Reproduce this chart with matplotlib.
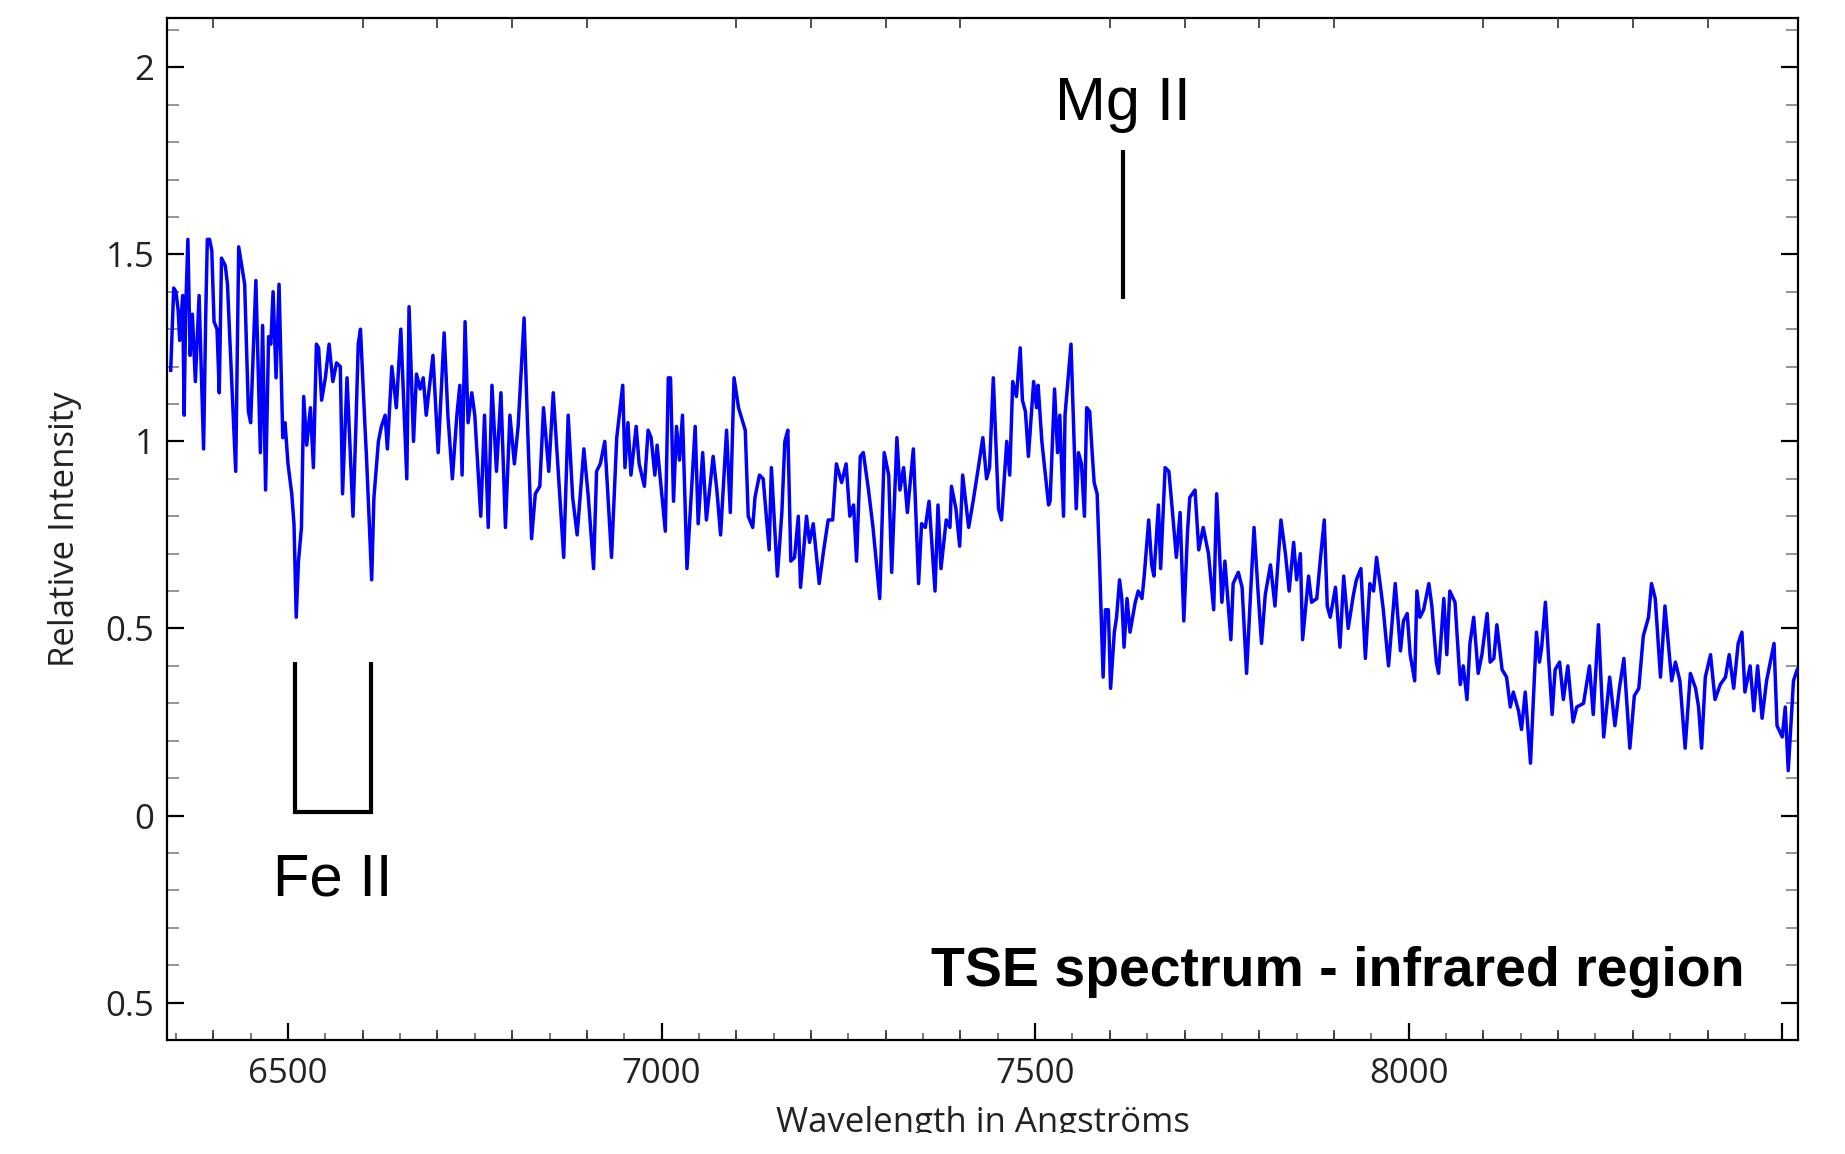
import matplotlib
matplotlib.use("Agg")
import matplotlib.pyplot as plt
from matplotlib.ticker import FixedLocator, MultipleLocator
from matplotlib.patches import Rectangle

# ---------------- data ----------------
wavelength_a = [6343, 6347, 6350, 6353, 6355, 6359, 6361, 6363, 6366, 6369, 6372, 6376, 6381, 6387,
                6390, 6392, 6395, 6398, 6401, 6405, 6408, 6411, 6416, 6419, 6422, 6430, 6434, 6438,
                6442, 6447, 6450, 6457, 6463, 6466, 6470, 6474, 6477, 6480, 6484, 6488, 6493, 6496,
                6500, 6505, 6508, 6511, 6514, 6518, 6521, 6525, 6530, 6534, 6538, 6541, 6545, 6550,
                6555, 6560, 6565, 6570, 6573, 6579, 6587, 6591, 6594, 6597, 6603, 6605, 6612, 6615,
                6621, 6625, 6630, 6633, 6639, 6645, 6651, 6659, 6662, 6668, 6672, 6677, 6681, 6685,
                6694, 6701, 6709, 6714, 6720, 6726, 6730, 6733, 6737, 6741, 6746, 6750, 6758, 6763,
                6768, 6773, 6779, 6785, 6791, 6797, 6803, 6808, 6816, 6821, 6826, 6831, 6837, 6842,
                6849, 6855, 6864, 6869, 6875, 6881, 6887, 6896, 6902, 6909, 6913]
intensity_a = [1.19, 1.41, 1.40, 1.35, 1.27, 1.39, 1.07, 1.35, 1.54, 1.23, 1.34, 1.16, 1.39, 0.98,
               1.35, 1.54, 1.54, 1.51, 1.32, 1.30, 1.13, 1.49, 1.47, 1.42, 1.28, 0.92, 1.52, 1.47,
               1.42, 1.08, 1.05, 1.43, 0.97, 1.31, 0.87, 1.28, 1.26, 1.40, 1.17, 1.42, 1.01, 1.05,
               0.94, 0.86, 0.78, 0.53, 0.68, 0.77, 1.12, 0.99, 1.09, 0.93, 1.26, 1.25, 1.11, 1.17,
               1.26, 1.16, 1.21, 1.20, 0.86, 1.17, 0.80, 1.05, 1.26, 1.30, 1.04, 0.96, 0.63, 0.85,
               1.00, 1.04, 1.07, 0.98, 1.20, 1.09, 1.30, 0.90, 1.36, 1.00, 1.18, 1.14, 1.17, 1.07,
               1.23, 0.97, 1.29, 1.07, 0.90, 1.07, 1.15, 0.91, 1.32, 1.05, 1.13, 1.07, 0.80, 1.07,
               0.77, 1.15, 0.92, 1.13, 0.77, 1.07, 0.94, 1.04, 1.33, 1.02, 0.74, 0.86, 0.88, 1.09,
               0.92, 1.13, 0.85, 0.69, 1.07, 0.85, 0.75, 0.98, 0.85, 0.66, 0.92]

wavelength_b = [6918, 6924, 6933, 6940, 6948, 6951, 6955, 6959, 6966, 6970, 6977, 6982, 6986, 6991,
                6994, 7005, 7009, 7012, 7016, 7020, 7024, 7028, 7034, 7045, 7049, 7055, 7060, 7069,
                7074, 7079, 7087, 7092, 7097, 7103, 7112, 7116, 7122, 7125, 7131, 7136, 7144, 7147,
                7155, 7161, 7165, 7169, 7173, 7178, 7183, 7186, 7194, 7198, 7203, 7211, 7217, 7223,
                7229, 7234, 7241, 7247, 7252, 7257, 7261, 7266, 7270, 7277, 7283, 7292, 7298, 7304,
                7308, 7315, 7319, 7324, 7329, 7337, 7344, 7348, 7353, 7358, 7366, 7370, 7374, 7381,
                7386, 7388, 7394, 7399, 7403, 7411, 7417, 7424, 7430, 7435, 7439, 7444, 7451, 7455,
                7462, 7466, 7470, 7475, 7480, 7483, 7487, 7491, 7498, 7502, 7504, 7509, 7518]
intensity_b = [0.94, 1.00, 0.69, 1.01, 1.15, 0.93, 1.05, 0.91, 1.04, 0.94, 0.88, 1.03, 1.01, 0.91,
               0.99, 0.76, 1.17, 1.17, 0.84, 1.04, 0.95, 1.07, 0.66, 1.04, 0.78, 0.97, 0.79, 0.96,
               0.87, 0.75, 1.03, 0.81, 1.17, 1.09, 1.03, 0.80, 0.77, 0.85, 0.91, 0.90, 0.71, 0.93,
               0.64, 0.81, 1.00, 1.03, 0.68, 0.69, 0.80, 0.61, 0.80, 0.73, 0.78, 0.62, 0.71, 0.79,
               0.79, 0.94, 0.89, 0.94, 0.80, 0.83, 0.68, 0.96, 0.97, 0.87, 0.77, 0.58, 0.97, 0.91,
               0.65, 1.01, 0.87, 0.93, 0.81, 0.98, 0.62, 0.78, 0.77, 0.84, 0.60, 0.83, 0.66, 0.79,
               0.77, 0.88, 0.82, 0.72, 0.91, 0.77, 0.84, 0.93, 1.01, 0.90, 0.93, 1.17, 0.82, 0.79,
               1.00, 0.91, 1.16, 1.12, 1.25, 1.11, 1.08, 0.96, 1.16, 1.09, 1.15, 1.00, 0.83]

wavelength_c = [7520, 7526, 7530, 7533, 7538, 7540, 7548, 7555, 7558, 7562, 7566, 7569, 7573, 7576,
                7579, 7583, 7586, 7591, 7594, 7598, 7601, 7606, 7609, 7613, 7616, 7619, 7623, 7627,
                7634, 7638, 7643, 7646, 7652, 7656, 7659, 7665, 7668, 7674, 7679, 7683, 7689, 7694,
                7699, 7704, 7707, 7714, 7719, 7725, 7732, 7739, 7743, 7750, 7754, 7762, 7765, 7772,
                7777, 7783, 7788, 7793, 7798, 7803, 7808, 7815, 7821, 7829, 7835, 7840, 7846, 7850,
                7855, 7858, 7866, 7870, 7877, 7882, 7887, 7891, 7895, 7902, 7908, 7913, 7919, 7926,
                7930, 7936, 7942, 7948, 7953, 7957, 7963, 7966, 7973, 7982, 7989]
intensity_c = [0.84, 1.14, 0.97, 1.07, 0.80, 1.07, 1.26, 0.82, 0.97, 0.94, 0.80, 1.09, 1.08, 0.98,
               0.89, 0.86, 0.69, 0.37, 0.55, 0.55, 0.34, 0.49, 0.53, 0.63, 0.58, 0.45, 0.58, 0.49,
               0.57, 0.60, 0.58, 0.64, 0.79, 0.67, 0.64, 0.83, 0.66, 0.93, 0.92, 0.83, 0.69, 0.81,
               0.52, 0.76, 0.85, 0.87, 0.71, 0.77, 0.70, 0.55, 0.86, 0.57, 0.68, 0.47, 0.62, 0.65,
               0.61, 0.38, 0.58, 0.77, 0.61, 0.46, 0.59, 0.67, 0.56, 0.79, 0.70, 0.60, 0.73, 0.63,
               0.70, 0.47, 0.64, 0.57, 0.58, 0.69, 0.79, 0.56, 0.53, 0.61, 0.45, 0.64, 0.50, 0.59,
               0.63, 0.66, 0.42, 0.62, 0.60, 0.69, 0.60, 0.55, 0.40, 0.62, 0.44]

wavelength_d = [7993, 7998, 8002, 8008, 8011, 8015, 8020, 8027, 8031, 8037, 8040, 8047, 8051, 8055,
                8062, 8069, 8073, 8078, 8082, 8087, 8093, 8098, 8105, 8109, 8114, 8118, 8125, 8131,
                8136, 8140, 8147, 8151, 8156, 8163, 8166, 8171, 8175, 8178, 8183, 8187, 8192, 8196,
                8202, 8207, 8213, 8220, 8225, 8234, 8242, 8247, 8254, 8261, 8269, 8276, 8282, 8288,
                8296, 8302, 8308, 8314, 8321, 8325, 8330, 8337, 8343, 8348, 8352, 8357, 8363, 8370,
                8377, 8384, 8388, 8392, 8397, 8404, 8410, 8417, 8424, 8429, 8435, 8441, 8446, 8450,
                8457, 8462, 8467, 8473, 8479, 8483, 8489, 8493, 8500, 8504, 8508, 8515, 8520]
intensity_d = [0.52, 0.54, 0.43, 0.36, 0.60, 0.53, 0.55, 0.62, 0.56, 0.41, 0.38, 0.58, 0.43, 0.60,
               0.57, 0.35, 0.40, 0.31, 0.46, 0.53, 0.38, 0.43, 0.54, 0.41, 0.42, 0.51, 0.39, 0.37,
               0.29, 0.33, 0.28, 0.23, 0.33, 0.14, 0.27, 0.49, 0.41, 0.45, 0.57, 0.43, 0.27, 0.39,
               0.41, 0.31, 0.40, 0.25, 0.29, 0.30, 0.40, 0.27, 0.51, 0.21, 0.37, 0.24, 0.34, 0.42,
               0.18, 0.32, 0.34, 0.48, 0.53, 0.62, 0.58, 0.37, 0.56, 0.45, 0.36, 0.41, 0.36, 0.18,
               0.38, 0.34, 0.29, 0.18, 0.37, 0.43, 0.31, 0.35, 0.37, 0.43, 0.34, 0.46, 0.49, 0.33,
               0.40, 0.28, 0.40, 0.26, 0.36, 0.40, 0.46, 0.24, 0.21, 0.29, 0.12, 0.36, 0.39]

x_major_ticks = [6500, 7000, 7500, 8000, 8500]
x_major_labels = ["6500", "7000", "7500", "8000", ""]
y_major_ticks = [-0.5, 0, 0.5, 1, 1.5, 2]
y_major_labels = ["0.5", "0", "0.5", "1", "1.5", "2"]

mg_label = "Mg II"
mg_line_x = [7618, 7618]
mg_line_y = [1.38, 1.78]
fe_label = "Fe II"
fe_bracket_x = [6509, 6509, 6611, 6611]
fe_bracket_y = [0.41, 0.01, 0.01, 0.41]
title_text = "TSE spectrum - infrared region"

wavelength = wavelength_a + wavelength_b + wavelength_c + wavelength_d
intensity = intensity_a + intensity_b + intensity_c + intensity_d

# ---------------- figure ----------------
TICK_FONT = ["Open Sans", "DejaVu Sans"]
ANN_FONT = ["Liberation Sans", "DejaVu Sans"]

fig = plt.figure(figsize=(18.45, 11.54), dpi=100)
ax = fig.add_axes([0.0905, 0.0988, 0.8840, 0.8860])
xlim = (6338, 8521)
ylim = (-0.6, 2.133)

ax.plot(wavelength, intensity, color="#0000ff", lw=2.5, solid_joinstyle="round", zorder=3)

ax.plot(mg_line_x, mg_line_y, color="black", lw=3.0, solid_capstyle="butt")
ax.plot(fe_bracket_x, fe_bracket_y, color="black", lw=3.0, solid_capstyle="butt",
        solid_joinstyle="miter")
ax.text(7618, 1.86, mg_label, ha="center", va="baseline", fontsize=44, family=ANN_FONT)
ax.text(6560, -0.213, fe_label, ha="center", va="baseline", fontsize=43, family=ANN_FONT)
ax.text(0.9675, 0.0528, title_text, transform=ax.transAxes, ha="right", va="baseline",
        fontsize=40, fontweight="bold", family=ANN_FONT)

ax.set_xlim(*xlim)
ax.set_ylim(*ylim)

ax.xaxis.set_major_locator(FixedLocator(x_major_ticks))
ax.set_xticklabels(x_major_labels)
ax.xaxis.set_minor_locator(MultipleLocator(50))
ax.yaxis.set_major_locator(FixedLocator(y_major_ticks))
ax.set_yticklabels(y_major_labels)
ax.yaxis.set_minor_locator(MultipleLocator(0.1))

ax.tick_params(axis="both", which="major", direction="in", length=12, width=1.6,
               color="black", top=True, right=True, labelsize=25, labelcolor="#222222")
ax.tick_params(axis="x", which="major", pad=12)
ax.tick_params(axis="y", which="major", pad=9)
ax.tick_params(axis="x", which="minor", direction="in", length=5, width=1.1,
               color="#555555", top=True, bottom=True)
ax.tick_params(axis="y", which="minor", direction="in", length=8.5, width=1.1,
               color="#777777", left=True, right=True)
for lab in ax.get_xticklabels() + ax.get_yticklabels():
    lab.set_family(TICK_FONT)

for sp in ax.spines.values():
    sp.set_linewidth(1.6)
    sp.set_color("black")

# medium ticks every 100 Angstrom
ax2 = ax.twiny()
ax2.set_xlim(*xlim)
ax2.xaxis.set_major_locator(FixedLocator([v for v in range(6400, 8600, 100) if v % 500 != 0]))
ax2.tick_params(axis="x", which="major", direction="in", length=7.5, width=1.2,
                color="#333333", top=True, bottom=True, labeltop=False, labelbottom=False)
ax2.xaxis.set_minor_locator(FixedLocator([]))
for sp in ax2.spines.values():
    sp.set_visible(False)

ax.set_xlabel("Wavelength in Angströms", fontsize=25, family=TICK_FONT, color="#222222")
ax.set_ylabel("Relative Intensity", fontsize=25, family=TICK_FONT, color="#222222")
ax.xaxis.set_label_coords(0.5, -0.065)
ax.yaxis.set_label_coords(-0.052, 0.5)

# the reference image is cut off just below the x-axis title
fig.add_artist(Rectangle((0, 0), 1, 0.018, transform=fig.transFigure,
                         facecolor="white", edgecolor="none", zorder=10))

fig.savefig("out.png", dpi=100, facecolor="white")
